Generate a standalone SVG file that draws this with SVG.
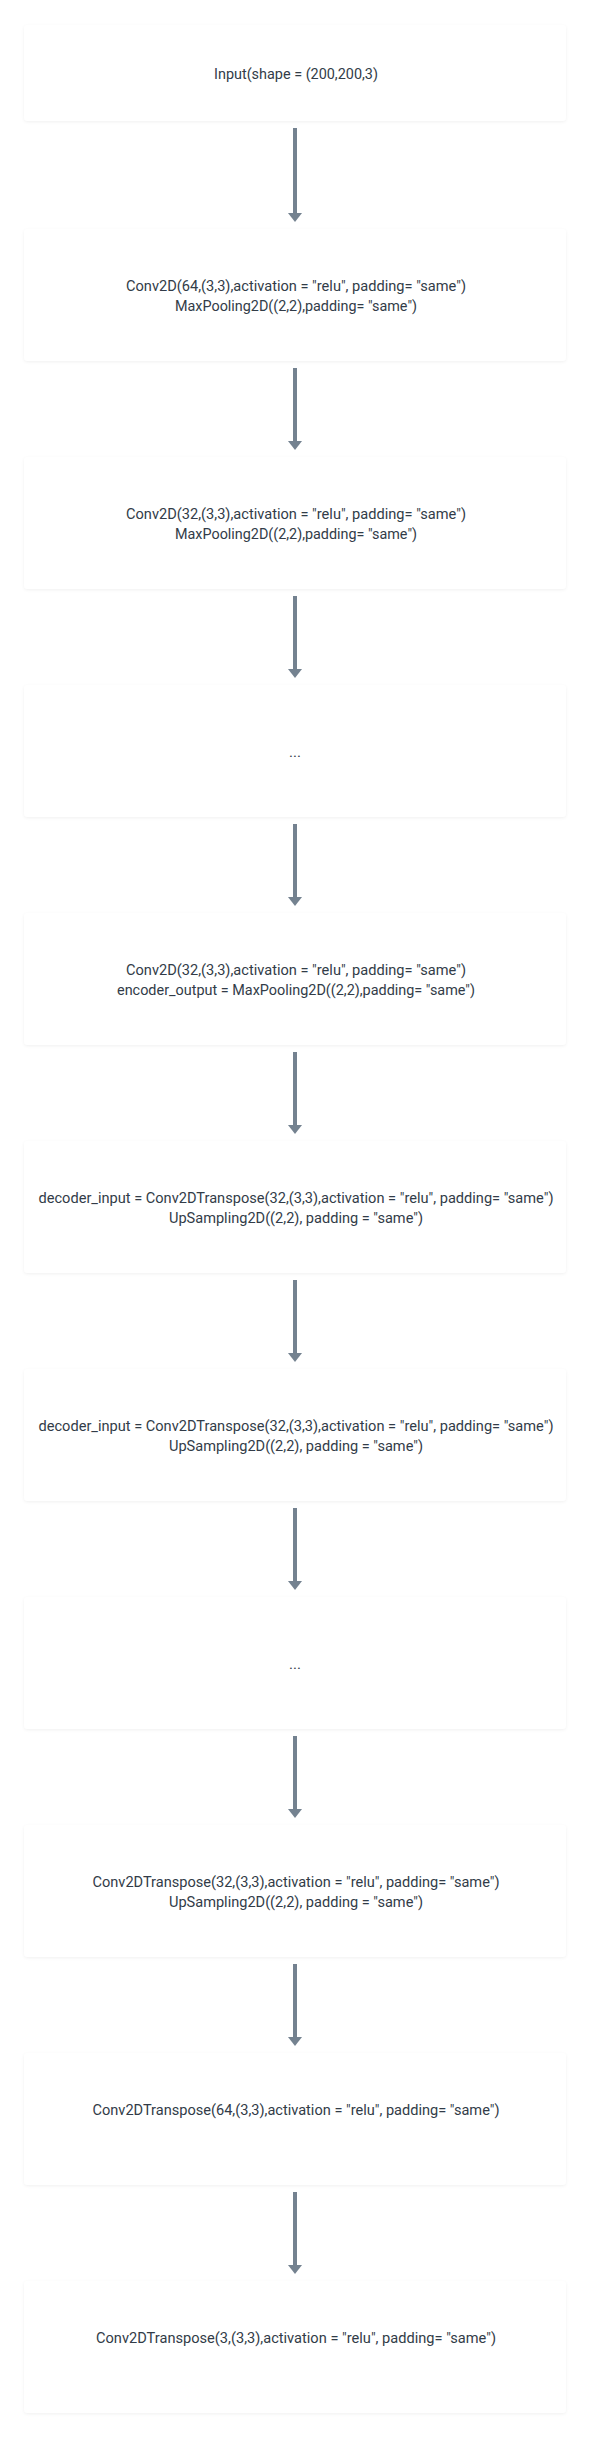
<svg xmlns="http://www.w3.org/2000/svg" width="590" height="2438" viewBox="0 0 590 2438">
<style>
.box{fill:#ffffff;filter:url(#sh)}
.t{font-family:Roboto,"Liberation Sans",sans-serif;font-size:15px;fill:#323c48;text-anchor:middle}
.c{stroke:#748290;stroke-width:4;fill:none}
.h{fill:#748290}
</style>
<defs>
<filter id="sh" x="-5%" y="-20%" width="110%" height="140%">
<feDropShadow dx="0" dy="1" stdDeviation="1.5" flood-color="#000" flood-opacity="0.06"/>
</filter>
</defs>
<rect width="590" height="2438" fill="#ffffff"/>
<g id="connectors">
<line class="c" x1="295" y1="128" x2="295" y2="214"/><polygon class="h" points="288,213 302,213 295,222"/>
<line class="c" x1="295" y1="368" x2="295" y2="442"/><polygon class="h" points="288,441 302,441 295,450"/>
<line class="c" x1="295" y1="596" x2="295" y2="670"/><polygon class="h" points="288,669 302,669 295,678"/>
<line class="c" x1="295" y1="824" x2="295" y2="898"/><polygon class="h" points="288,897 302,897 295,906"/>
<line class="c" x1="295" y1="1052" x2="295" y2="1126"/><polygon class="h" points="288,1125 302,1125 295,1134"/>
<line class="c" x1="295" y1="1280" x2="295" y2="1354"/><polygon class="h" points="288,1353 302,1353 295,1362"/>
<line class="c" x1="295" y1="1508" x2="295" y2="1582"/><polygon class="h" points="288,1581 302,1581 295,1590"/>
<line class="c" x1="295" y1="1736" x2="295" y2="1810"/><polygon class="h" points="288,1809 302,1809 295,1818"/>
<line class="c" x1="295" y1="1964" x2="295" y2="2038"/><polygon class="h" points="288,2037 302,2037 295,2046"/>
<line class="c" x1="295" y1="2192" x2="295" y2="2266"/><polygon class="h" points="288,2265 302,2265 295,2274"/>
</g>
<g id="n1"><rect class="box" x="24" y="25" width="542" height="96" rx="4"/>
<text class="t" x="296" y="79" textLength="164" lengthAdjust="spacingAndGlyphs">Input(shape = (200,200,3)</text></g>
<g id="n2"><rect class="box" x="24" y="229" width="542" height="132" rx="4"/>
<text class="t" x="296" y="291" textLength="340" lengthAdjust="spacingAndGlyphs">Conv2D(64,(3,3),activation = "relu", padding= "same")</text>
<text class="t" x="296" y="311" textLength="242" lengthAdjust="spacingAndGlyphs">MaxPooling2D((2,2),padding= "same")</text></g>
<g id="n3"><rect class="box" x="24" y="457" width="542" height="132" rx="4"/>
<text class="t" x="296" y="519" textLength="340" lengthAdjust="spacingAndGlyphs">Conv2D(32,(3,3),activation = "relu", padding= "same")</text>
<text class="t" x="296" y="539" textLength="242" lengthAdjust="spacingAndGlyphs">MaxPooling2D((2,2),padding= "same")</text></g>
<g id="n4"><rect class="box" x="24" y="685" width="542" height="132" rx="4"/>
<text class="t" x="295" y="757">...</text></g>
<g id="n5"><rect class="box" x="24" y="913" width="542" height="132" rx="4"/>
<text class="t" x="296" y="975" textLength="340" lengthAdjust="spacingAndGlyphs">Conv2D(32,(3,3),activation = "relu", padding= "same")</text>
<text class="t" x="296" y="995" textLength="358" lengthAdjust="spacingAndGlyphs">encoder_output = MaxPooling2D((2,2),padding= "same")</text></g>
<g id="n6"><rect class="box" x="24" y="1141" width="542" height="132" rx="4"/>
<text class="t" x="296" y="1203" textLength="515" lengthAdjust="spacingAndGlyphs">decoder_input = Conv2DTranspose(32,(3,3),activation = "relu", padding= "same")</text>
<text class="t" x="296" y="1223" textLength="254" lengthAdjust="spacingAndGlyphs">UpSampling2D((2,2), padding = "same")</text></g>
<g id="n7"><rect class="box" x="24" y="1369" width="542" height="132" rx="4"/>
<text class="t" x="296" y="1431" textLength="515" lengthAdjust="spacingAndGlyphs">decoder_input = Conv2DTranspose(32,(3,3),activation = "relu", padding= "same")</text>
<text class="t" x="296" y="1451" textLength="254" lengthAdjust="spacingAndGlyphs">UpSampling2D((2,2), padding = "same")</text></g>
<g id="n8"><rect class="box" x="24" y="1597" width="542" height="132" rx="4"/>
<text class="t" x="295" y="1669">...</text></g>
<g id="n9"><rect class="box" x="24" y="1825" width="542" height="132" rx="4"/>
<text class="t" x="296" y="1887" textLength="407" lengthAdjust="spacingAndGlyphs">Conv2DTranspose(32,(3,3),activation = "relu", padding= "same")</text>
<text class="t" x="296" y="1907" textLength="254" lengthAdjust="spacingAndGlyphs">UpSampling2D((2,2), padding = "same")</text></g>
<g id="n10"><rect class="box" x="24" y="2053" width="542" height="132" rx="4"/>
<text class="t" x="296" y="2115" textLength="407" lengthAdjust="spacingAndGlyphs">Conv2DTranspose(64,(3,3),activation = "relu", padding= "same")</text></g>
<g id="n11"><rect class="box" x="24" y="2281" width="542" height="132" rx="4"/>
<text class="t" x="296" y="2343" textLength="400" lengthAdjust="spacingAndGlyphs">Conv2DTranspose(3,(3,3),activation = "relu", padding= "same")</text></g>
</svg>
